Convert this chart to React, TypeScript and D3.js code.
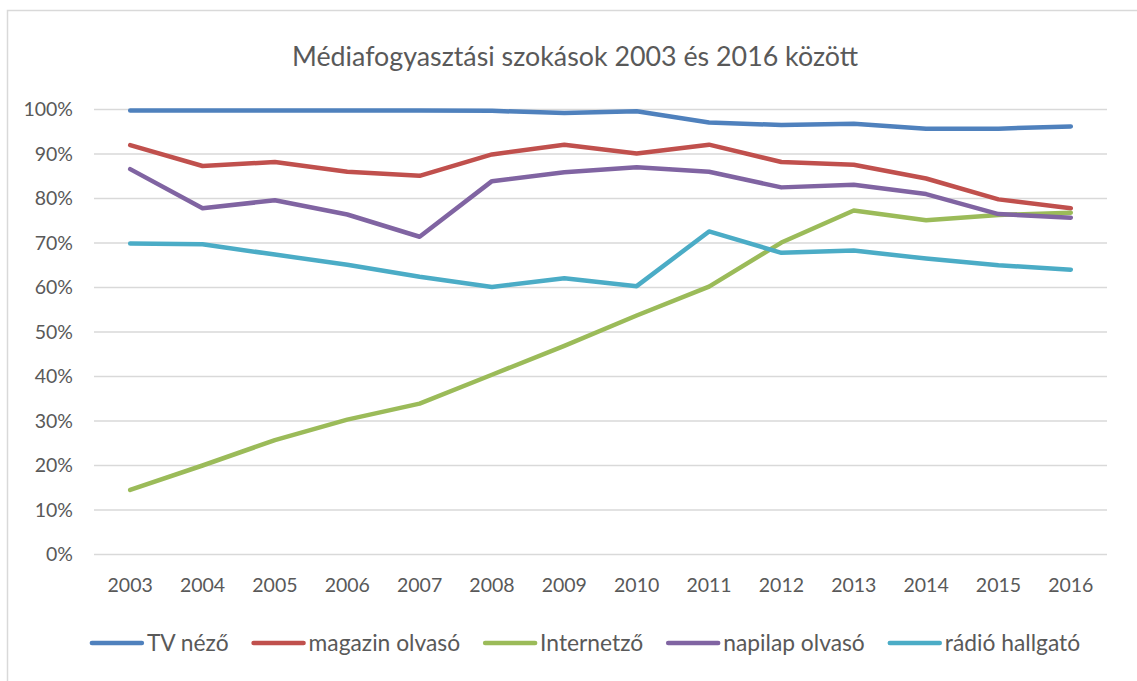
import React, { useEffect, useRef } from "react";
import * as d3 from "d3";

const years = ["2003","2004","2005","2006","2007","2008","2009","2010","2011","2012","2013","2014","2015","2016"];
const tvNezo = [99.8,99.8,99.8,99.8,99.8,99.7,99.2,99.6,97.1,96.5,96.8,95.7,95.7,96.2];
const magazinOlvaso = [92.0,87.3,88.2,86.0,85.1,89.9,92.1,90.1,92.1,88.2,87.6,84.5,79.8,77.8];
const internetzo = [14.5,20.0,25.7,30.3,33.9,40.4,46.9,53.7,60.2,70.1,77.3,75.1,76.3,76.8];
const napilapOlvaso = [86.6,77.8,79.6,76.4,71.4,83.9,85.9,87.0,86.0,82.5,83.1,81.0,76.5,75.7];
const radioHallgato = [69.9,69.7,67.4,65.1,62.4,60.1,62.1,60.3,72.6,67.8,68.3,66.5,65.0,64.0];
const yTicks = [0,10,20,30,40,50,60,70,80,90,100];
const title = "Médiafogyasztási szokások 2003 és 2016 között";

const seriesNames = ["TV néző","magazin olvasó","Internetző","napilap olvasó","rádió hallgató"];
const seriesValues = [tvNezo, magazinOlvaso, internetzo, napilapOlvaso, radioHallgato];
const seriesColors = ["#4F81BD","#C0504D","#9BBB59","#8064A2","#4BACC6"];

const W = 1137, H = 681;
const FONT = "Lato, 'Open Sans', sans-serif";

export default function App() {
  const ref = useRef<SVGSVGElement>(null);
  useEffect(() => {
    const svg = d3.select(ref.current);
    svg.selectAll("*").remove();
    svg.append("rect").attr("width", W).attr("height", H).attr("fill", "#fff");
    svg.append("rect").attr("x", 7.5).attr("y", 10.5).attr("width", W + 20).attr("height", H + 20)
      .attr("fill", "none").attr("stroke", "#d9d9d9").attr("stroke-width", 1.5);

    const left = 94, right = 1107, top = 109.5, bottom = 554.5;
    const x = d3.scaleBand().domain(years).range([left, right]);
    const y = d3.scaleLinear().domain([0, 100]).range([bottom, top]);

    const g = svg.append("g");
    g.selectAll("line.grid").data(yTicks).enter().append("line")
      .attr("x1", left).attr("x2", right)
      .attr("y1", d => y(d)).attr("y2", d => y(d))
      .attr("stroke", "#d9d9d9").attr("stroke-width", 1.5);

    g.selectAll("text.yl").data(yTicks).enter().append("text")
      .attr("x", 73).attr("y", d => y(d)).attr("dy", "0.35em")
      .attr("text-anchor", "end").attr("font-family", FONT).attr("font-size", 19.5)
      .attr("fill", "#595959").text(d => d + "%");

    g.selectAll("text.xl").data(years).enter().append("text")
      .attr("x", d => x(d)! + x.bandwidth() / 2).attr("y", 592)
      .attr("text-anchor", "middle").attr("font-family", FONT).attr("font-size", 19.5)
      .attr("fill", "#595959").text(d => d);

    svg.append("text").attr("x", 575).attr("y", 66).attr("text-anchor", "middle")
      .attr("font-family", FONT).attr("font-size", 26.8).attr("fill", "#595959").text(title);

    const line = d3.line<number>()
      .x((_, i) => x(years[i])! + x.bandwidth() / 2)
      .y(d => y(d));
    seriesValues.forEach((vals, i) => {
      g.append("path").attr("d", line(vals)!).attr("fill", "none")
        .attr("stroke", seriesColors[i]).attr("stroke-width", 4.5)
        .attr("stroke-linejoin", "round").attr("stroke-linecap", "round");
    });

    // legend
    const lg = svg.append("g");
    const items = seriesNames.map((name, i) => {
      const t = lg.append("text").attr("font-family", FONT).attr("font-size", 22.8)
        .attr("fill", "#595959").attr("y", 651).text(name);
      const w = (t.node() as SVGTextElement).getComputedTextLength();
      return { t, w, i };
    });
    const lineLen = 54, gapTxt = 3, gapItem = 23;
    const total = items.reduce((s, it) => s + lineLen + gapTxt + it.w, 0) + gapItem * (items.length - 1);
    let cx = 585 - total / 2;
    items.forEach(it => {
      lg.append("line").attr("x1", cx + 2).attr("x2", cx + lineLen - 2).attr("y1", 643).attr("y2", 643)
        .attr("stroke", seriesColors[it.i]).attr("stroke-width", 4.5).attr("stroke-linecap", "round");
      it.t.attr("x", cx + lineLen + gapTxt);
      cx += lineLen + gapTxt + it.w + gapItem;
    });
  }, []);
  return (
    <svg ref={ref} width={W} height={H} style={{ position: "absolute", left: 0, top: 0 }} />
  );
}
